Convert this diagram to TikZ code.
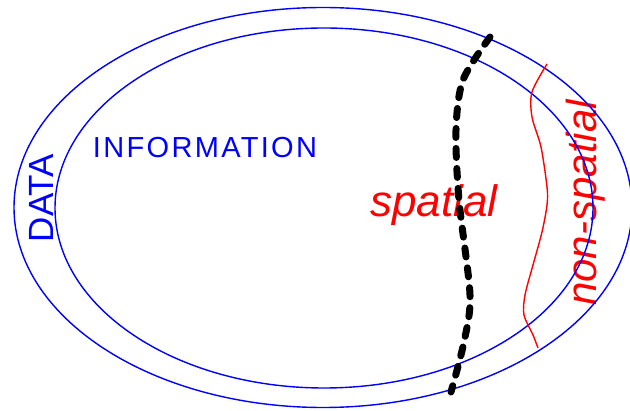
\documentclass[tikz,border=0pt]{standalone}
\usepackage{fontspec}
\setmainfont{Liberation Sans}
\newfontfamily\spacedfont[LetterSpace=8]{Liberation Sans}
\usetikzlibrary{positioning}
\definecolor{ringblue}{RGB}{0,0,255}
\definecolor{splitred}{RGB}{255,0,0}

\begin{document}
\begin{tikzpicture}[
    x=1pt, y=-1pt,
    ring/.style={draw=ringblue, line width=1.4pt},
    divide/.style={draw=black, line width=7pt, line cap=round, dash pattern=on 9pt off 11pt},
    border/.style={draw=splitred, line width=1.4pt},
    word/.style={inner sep=0pt, anchor=base, text=#1},
    word/.default=ringblue
]
\useasboundingbox (0,0) rectangle (630,411);
\clip (0,0) rectangle (630,411);

% Labels
\node[word, font=\spacedfont\fontsize{29}{29}\selectfont] (info) at (205,158) {INFORMATION};
\node[word, rotate=90, font=\fontsize{35}{35}\selectfont] (data) at (53,198) {DATA};
\node[word=splitred, font=\itshape\fontsize{44}{44}\selectfont] (spatial) at (434,217) {spatial};
\node[word=splitred, rotate=90, font=\itshape\fontsize{42}{42}\selectfont] (nonspatial) at (596,203) {non-spatial};

% Rings
\draw[ring] (323,207.5) ellipse [x radius=309pt, y radius=200pt];
\draw[ring] (324,208) ellipse [x radius=269pt, y radius=180pt];

% Spatial / non-spatial border
\draw[border] plot[smooth] coordinates {(547,64) (532,92) (532,117) (541,147) (547,187)
    (547,205) (542,232) (533,265) (525,295) (524,315) (533,335) (538,348)};

% Data / information divide
\draw[divide] plot[smooth] coordinates {(490,37) (463,80) (456,130) (459,200)
    (470,295) (464,342) (451,392)};
\end{tikzpicture}
\end{document}
